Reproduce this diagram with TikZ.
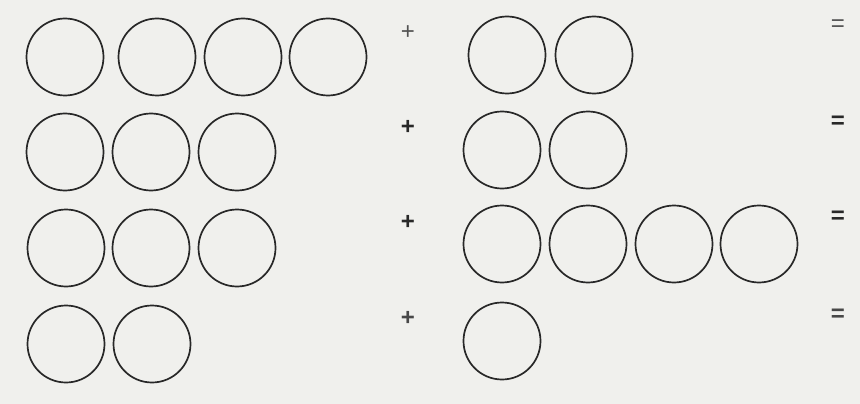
\documentclass[tikz,border=0pt]{standalone}
\usepackage{fontspec}
\setsansfont{Liberation Sans}
\usepackage{tikz}
\usetikzlibrary{positioning}
\definecolor{paper}{RGB}{240,240,237}
\definecolor{ink}{RGB}{40,40,40}

\begin{document}
\begin{tikzpicture}[
  x=1pt, y=-1pt,
  ball/.style={circle, draw=ink, line width=1.7pt, minimum size=77pt, inner sep=0pt},
  sign/.style={font=\sffamily\bfseries\fontsize{24}{26}\selectfont, text=ink, inner sep=0pt},
]
\fill[paper] (0,0) rectangle (860,404);
\useasboundingbox (0,0) rectangle (860,404);
% row 1: 4 + 2
\foreach \x [count=\i] in {65,157,243,328} \node[ball] (a\i) at (\x,57) {};
\node[sign, text=ink!80, font=\sffamily\fontsize{24}{26}\selectfont] (plusa) at (408,33) {+};
\foreach \x [count=\i] in {507,594} \node[ball] (ra\i) at (\x,55) {};
\node[sign, text=ink!80, font=\sffamily\fontsize{24}{26}\selectfont] (eqa) at (838,26) {=};
% row 2: 3 + 2
\foreach \x [count=\i] in {65,151,237} \node[ball] (b\i) at (\x,152) {};
\node[sign] (plusb) at (408,127) {+};
\foreach \x [count=\i] in {502,588} \node[ball] (rb\i) at (\x,150) {};
\node[sign] (eqb) at (838,122) {=};
% row 3: 3 + 4
\foreach \x [count=\i] in {66,151,237} \node[ball] (c\i) at (\x,248) {};
\node[sign] (plusc) at (408,222) {+};
\foreach \x [count=\i] in {502,588,674,759} \node[ball] (rc\i) at (\x,244) {};
\node[sign] (eqc) at (838,217) {=};
% row 4: 2 + 1
\foreach \x [count=\i] in {66,152} \node[ball] (d\i) at (\x,344) {};
\node[sign, text=ink!85] (plusd) at (408,318) {+};
\node[ball] (rd1) at (502,341) {};
\node[sign, text=ink!85] (eqd) at (838,315) {=};
\end{tikzpicture}
\end{document}
